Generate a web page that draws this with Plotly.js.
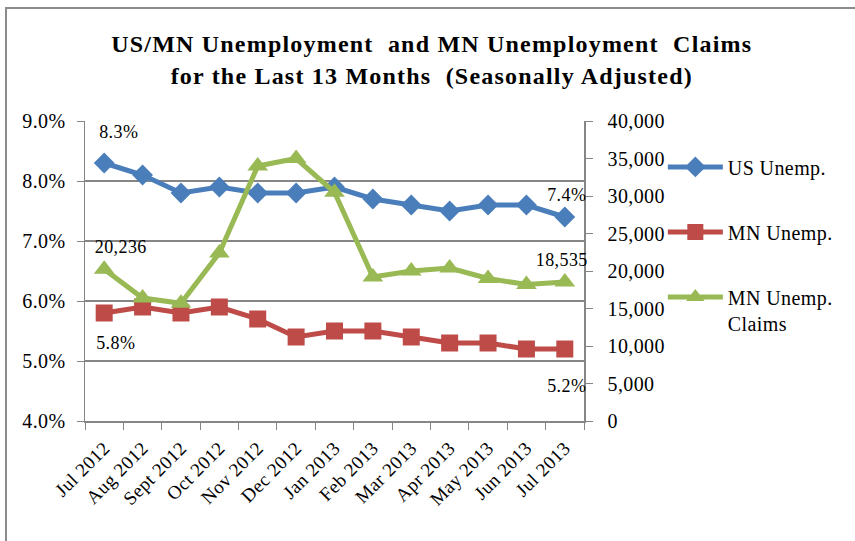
<!DOCTYPE html>
<html><head><meta charset="utf-8">
<script src="https://cdn.plot.ly/plotly-3.0.1.min.js"></script>
<style>
body{margin:0;padding:0;background:#fff;}
#wrap{position:relative;width:855px;height:541px;overflow:hidden;}
#frame{position:absolute;left:5px;top:7px;width:900px;height:600px;border:2px solid #8c8c8c;pointer-events:none;}
#chart{position:absolute;left:0;top:0;width:855px;height:541px;}
#chart text{letter-spacing:0.4px;}
#chart .gtitle{letter-spacing:1.2px;}
</style></head>
<body>
<div id="wrap"><div id="frame"></div><div id="chart"></div></div>
<script>
const months = ["Jul 2012","Aug 2012","Sept 2012","Oct 2012","Nov 2012","Dec 2012","Jan 2013","Feb 2013","Mar 2013","Apr 2013","May 2013","Jun 2013","Jul 2013"];
const usUnemp = [8.3,8.1,7.8,7.9,7.8,7.8,7.9,7.7,7.6,7.5,7.6,7.6,7.4];
const mnUnemp = [5.8,5.9,5.8,5.9,5.7,5.4,5.5,5.5,5.4,5.3,5.3,5.2,5.2];
const mnClaims = [20236,16400,15700,22400,34000,35000,30500,19200,20000,20400,19000,18200,18535];

const serif = "Liberation Serif, Times New Roman, serif";
const pct = v => v.toFixed(1)+"%";
const num = v => v.toLocaleString("en-US");
const last = months.length - 1;

// label offsets (pixels) for first/last point labels: [xshift, yshift]
const labelSpecs = [
  {arr:usUnemp, idx:0, fmt:pct, yref:"y", shift:[15,31]},
  {arr:usUnemp, idx:last, fmt:pct, yref:"y", shift:[2,22]},
  {arr:mnUnemp, idx:0, fmt:pct, yref:"y", shift:[12,-30]},
  {arr:mnUnemp, idx:last, fmt:pct, yref:"y", shift:[2,-37]},
  {arr:mnClaims, idx:0, fmt:num, yref:"y2", shift:[17,22]},
  {arr:mnClaims, idx:last, fmt:num, yref:"y2", shift:[-3,22]}
];
const annotations = labelSpecs.map(s => ({
  x: months[s.idx], y: s.arr[s.idx], xref:"x", yref:s.yref, text: s.fmt(s.arr[s.idx]),
  showarrow:false, xshift:s.shift[0], yshift:s.shift[1],
  font:{family:serif, size:18, color:"#000"}
}));

const traces = [
  {x:months, y:usUnemp, name:"US Unemp.", type:"scatter", mode:"lines+markers",
   line:{color:"#4A7EBB", width:5}, marker:{symbol:"diamond", size:16, color:"#4A7EBB"},
   legendgroup:"a", cliponaxis:false},
  {x:months, y:mnUnemp, name:"MN Unemp.", type:"scatter", mode:"lines+markers",
   line:{color:"#BE4B48", width:5}, marker:{symbol:"square", size:17, color:"#BE4B48"},
   legendgroup:"b", cliponaxis:false},
  {x:months, y:mnClaims, name:"MN Unemp.<br>Claims", type:"scatter", mode:"lines+markers", yaxis:"y2",
   line:{color:"#98B954", width:5}, marker:{symbol:"triangle-up", size:18, color:"#98B954"},
   legendgroup:"c", cliponaxis:false}
];

const layout = {
  width:855, height:541,
  paper_bgcolor:"rgba(0,0,0,0)", plot_bgcolor:"rgba(0,0,0,0)",
  margin:{l:85, r:271, t:121, b:120},
  font:{family:serif, size:18, color:"#000"},
  title:{text:"<b>US/MN Unemployment  and MN Unemployment  Claims<br>for the Last 13 Months  (Seasonally Adjusted)</b>",
         font:{family:serif, size:24, color:"#000"}, x:0.505, xref:"container", xanchor:"center", y:0.903, yanchor:"top"},
  showlegend:true,
  legend:{x:1.158, y:0.912, xanchor:"left", yanchor:"top", font:{family:serif,size:20,color:"#000"},
          tracegroupgap:36, itemwidth:55, valign:"top", bgcolor:"rgba(0,0,0,0)"},
  annotations: annotations,
  xaxis:{type:"category", range:[-0.5,12.5], tickson:"boundaries", ticks:"outside", ticklen:7,
         tickcolor:"#868686", showline:true, linecolor:"#868686", linewidth:1.5, showgrid:false,
         tickangle:-45, ticklabelstandoff:7, tickfont:{family:serif,size:19,color:"#000"}},
  yaxis:{range:[4,9], dtick:1, tickformat:".1f", ticksuffix:"%", showgrid:true, gridcolor:"#868686", gridwidth:1.5,
         showline:true, linecolor:"#868686", linewidth:1.5, ticks:"outside", ticklen:7, tickcolor:"#868686",
         ticklabelstandoff:7, tickfont:{family:serif,size:20,color:"#000"}, zeroline:false},
  yaxis2:{overlaying:"y", side:"right", range:[0,40000], dtick:5000, tickformat:",d", showgrid:false,
          showline:true, linecolor:"#868686", linewidth:1.5, ticks:"outside", ticklen:7, tickcolor:"#868686",
          ticklabelstandoff:11, tickfont:{family:serif,size:20,color:"#000"}, zeroline:false}
};

Plotly.newPlot("chart", traces, layout, {displayModeBar:false, staticPlot:true});
</script>
</body></html>
